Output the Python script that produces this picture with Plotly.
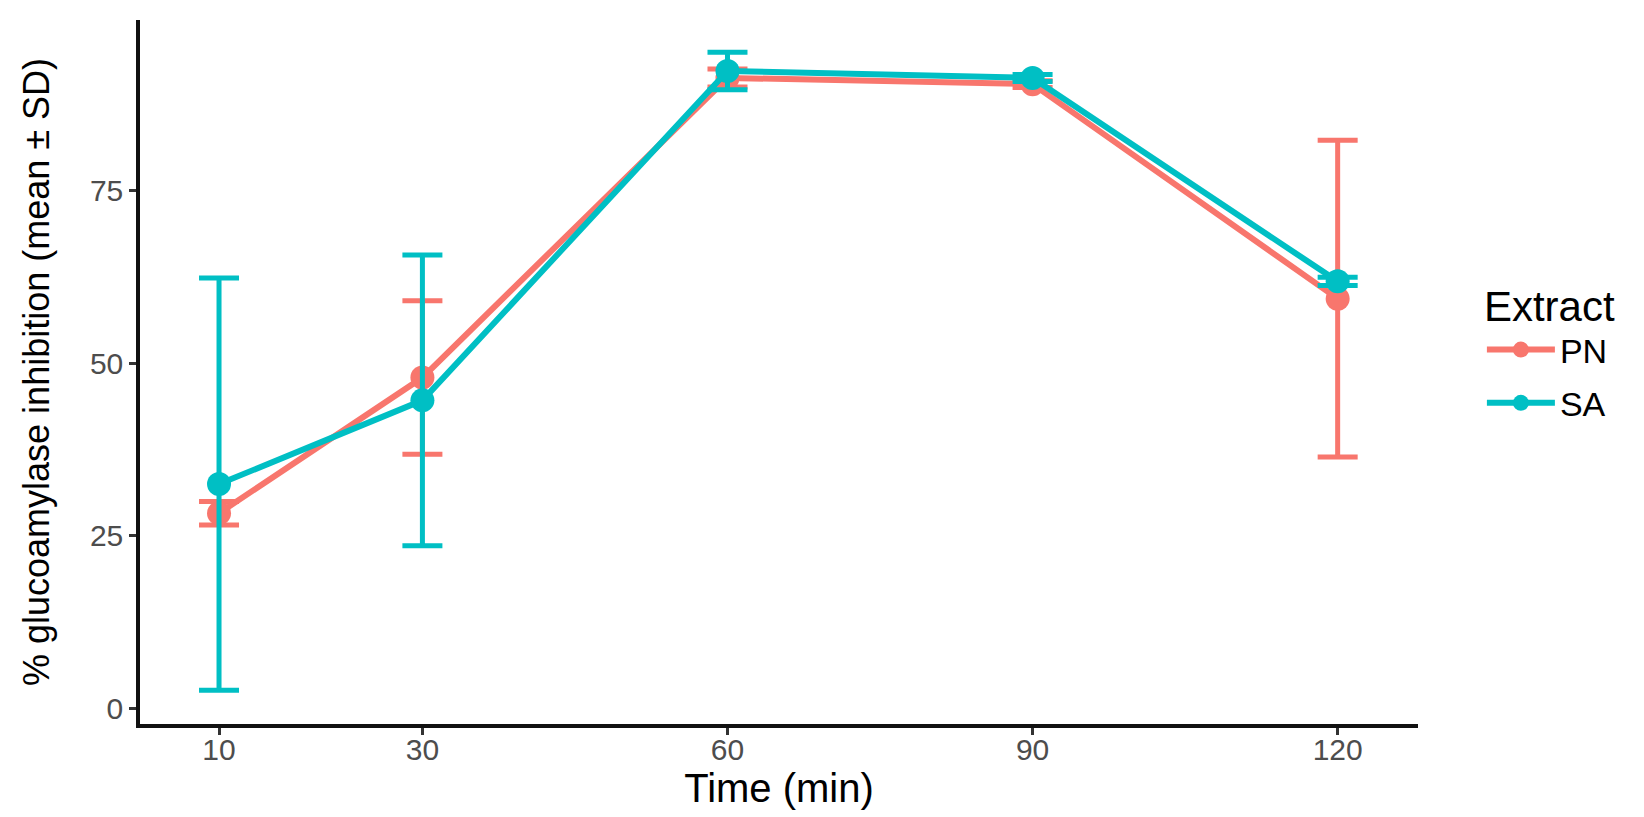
import plotly.graph_objects as go

# glucoamylase inhibition over time, two extracts (mean ± SD)
time_min = [10, 30, 60, 90, 120]
pn_mean = [28.3, 47.9, 91.2, 90.3, 59.3]
pn_sd = [1.7, 11.1, 1.3, 0.5, 22.9]
sa_mean = [32.5, 44.6, 92.2, 91.2, 61.8]
sa_sd = [29.8, 21.0, 2.7, 0.5, 0.6]
x_ticks = [10, 30, 60, 90, 120]
y_ticks = [0, 25, 50, 75]

FONT = "Liberation Sans, Arial, Helvetica, sans-serif"

series = [
    ("PN", pn_mean, pn_sd, "#F8766D"),
    ("SA", sa_mean, sa_sd, "#00BFC4"),
]

fig = go.Figure()
for name, mean, sd, color in series:
    fig.add_trace(go.Scatter(
        x=time_min,
        y=mean,
        name=name,
        legendgroup=name,
        mode="lines+markers",
        line=dict(color=color, width=6),
        marker=dict(color=color, size=24),
        error_y=dict(type="data", array=sd, visible=True,
                     color=color, thickness=5, width=20),
    ))

fig.update_layout(
    width=1644,
    height=817,
    margin=dict(l=132, r=234, t=12, b=101),
    paper_bgcolor="white",
    plot_bgcolor="white",
    font=dict(family=FONT, color="black"),
    showlegend=True,
    legend=dict(
        title=dict(text="Extract", font=dict(size=42, color="black")),
        font=dict(size=34, color="black"),
        x=1.05, xanchor="left",
        y=0.65, yanchor="top",
        itemwidth=68,
        tracegroupgap=6,
        bgcolor="rgba(0,0,0,0)",
    ),
    xaxis=dict(
        range=[2.23, 127.9],
        tickvals=x_ticks,
        ticktext=[str(v) for v in x_ticks],
        showgrid=False,
        zeroline=False,
        showline=True,
        linecolor="#111111",
        linewidth=3.5,
        ticks="outside",
        ticklen=7,
        tickwidth=3,
        tickcolor="#333333",
        tickfont=dict(size=30, color="#4D4D4D"),
        ticklabelstandoff=-11,
        title=dict(text="Time (min)", font=dict(size=40, color="black"), standoff=0),
    ),
    yaxis=dict(
        range=[-2.17, 99.57],
        tickvals=y_ticks,
        showgrid=False,
        zeroline=False,
        showline=True,
        linecolor="#111111",
        linewidth=3.5,
        ticks="outside",
        ticklen=7,
        tickwidth=3,
        tickcolor="#333333",
        tickfont=dict(size=30, color="#4D4D4D"),
        title=dict(text="% glucoamylase inhibition (mean ± SD)",
                   font=dict(size=36, color="black"), standoff=30),
    ),
)

fig.write_html("out.html")
